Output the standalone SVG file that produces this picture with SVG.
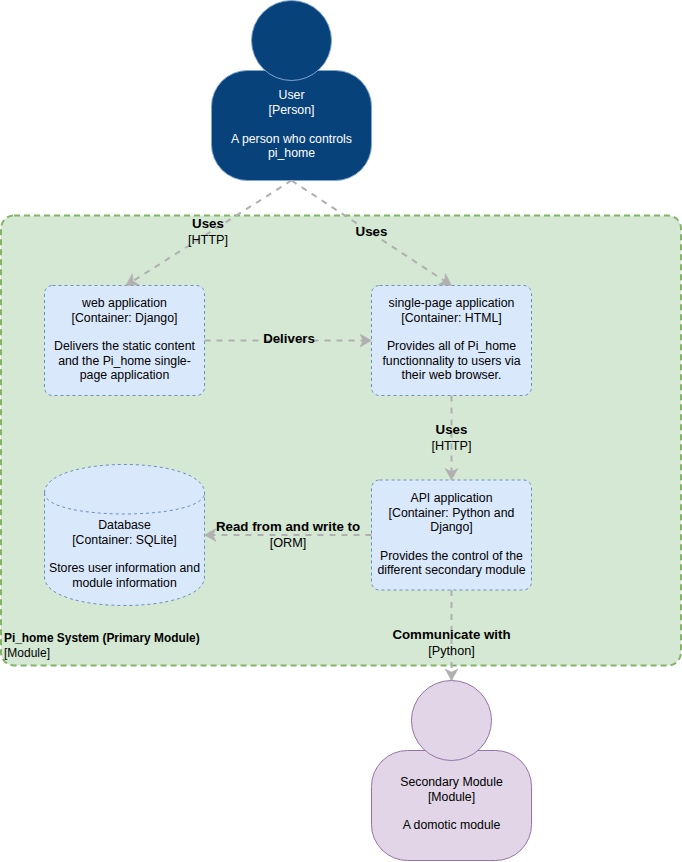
<svg xmlns="http://www.w3.org/2000/svg" width="682" height="862" viewBox="0 0 682 862">
<defs>
<marker id="arrow" markerUnits="userSpaceOnUse" markerWidth="16" markerHeight="16" refX="13" refY="8" orient="auto"><path d="M1.500 1.500 L13 8 L1.500 14.500 L4.500 8 Z" fill="#b0b0b0" stroke="#b0b0b0" stroke-width="0.5"/></marker>
</defs>
<style>
text{font-family:"Liberation Sans",Arial,sans-serif;font-size:12.300px;fill:#000;text-anchor:middle}
.w{fill:#fff}
.b{font-weight:bold;font-size:13.300px}
.t{font-size:12.700px}
.s{text-anchor:start;font-size:12px}
.sb{font-weight:bold;font-size:11.900px;text-anchor:start}
.box{fill:#dae8fc;stroke:#6c8ebf;stroke-dasharray:3 3}
.c{fill:none;stroke:#b0b0b0;stroke-width:2;stroke-dasharray:6 6;marker-end:url(#arrow)}
.person{fill:#08427b;stroke:#7ea6d3}
.module{fill:#e1d5e7;stroke:#9673a6}
</style>
<rect width="682" height="862" fill="#fff"/>
<g id="system">
<rect x="1" y="215.500" width="680" height="450" rx="13" ry="13" fill="#d5e8d4" stroke="#82b366" stroke-width="2" stroke-dasharray="6 4"/>
<text class="sb" x="4" y="642">Pi_home System (Primary Module)</text>
<text class="s" x="4" y="657">[Module]</text>
</g>
<g id="user">
<rect class="person" x="211.500" y="70.500" width="160" height="110" rx="36" ry="36"/>
<circle class="person" cx="291.500" cy="40.500" r="40"/>
<text class="w" x="291.500" y="99">User</text>
<text class="w" x="291.500" y="114">[Person]</text>
<text class="w" x="291.500" y="142.500">A person who controls</text>
<text class="w" x="291.500" y="157">pi_home</text>
</g>
<g id="web-application">
<rect class="box" x="44.500" y="285.500" width="160" height="110" rx="8" ry="8"/>
<text x="124.500" y="307">web application</text>
<text x="124.500" y="322">[Container: Django]</text>
<text x="124.500" y="350">Delivers the static content</text>
<text x="124.500" y="365">and the Pi_home single-</text>
<text x="124.500" y="379">page application</text>
</g>
<g id="single-page-application">
<rect class="box" x="371.500" y="285.500" width="160" height="110" rx="8" ry="8"/>
<text x="451.500" y="307">single-page application</text>
<text x="451.500" y="322">[Container: HTML]</text>
<text x="451.500" y="350">Provides all of Pi_home</text>
<text x="451.500" y="365">functionnality to users via</text>
<text x="451.500" y="379">their web browser.</text>
</g>
<g id="api-application">
<rect class="box" x="371.500" y="480" width="160" height="110" rx="8" ry="8"/>
<text x="451.500" y="502">API application</text>
<text x="451.500" y="517">[Container: Python and</text>
<text x="451.500" y="531">Django]</text>
<text x="451.500" y="560">Provides the control of the</text>
<text x="451.500" y="574">different secondary module</text>
</g>
<g id="database">
<path class="box" d="M44.500 493 C44.500 455 204.500 455 204.500 493 V577 C204.500 615 44.500 615 44.500 577 Z"/>
<path class="box" style="fill:none" d="M44.500 493 C44.500 521 204.500 521 204.500 493"/>
<text x="124.500" y="529">Database</text>
<text x="124.500" y="544">[Container: SQLite]</text>
<text x="124.500" y="572">Stores user information and</text>
<text x="124.500" y="587">module information</text>
</g>
<g id="secondary-module">
<rect class="module" x="371.500" y="750.500" width="160" height="110" rx="36" ry="36"/>
<circle class="module" cx="451.500" cy="720.500" r="40"/>
<text x="451.500" y="786">Secondary Module</text>
<text x="451.500" y="801">[Module]</text>
<text x="451.500" y="829">A domotic module</text>
</g>
<g id="connectors">
<path class="c" d="M291.500 180.500 L126 285.500"/>
<path class="c" d="M291.500 180.500 L451.500 285.500"/>
<path class="c" d="M204.500 340.500 L371.500 340.500"/>
<path class="c" d="M451.500 395.500 L451.500 480"/>
<path class="c" d="M371.500 535 L204.500 535"/>
<path class="c" d="M451.500 590 L451.500 680.500"/>
</g>
<g id="labels">
<text class="b" x="208" y="228">Uses</text>
<text class="t" x="208" y="244">[HTTP]</text>
<text class="b" x="371.500" y="236">Uses</text>
<text class="b" x="289" y="343">Delivers</text>
<text class="b" x="451.500" y="434">Uses</text>
<text class="t" x="451.500" y="450">[HTTP]</text>
<text class="b" x="288" y="531">Read from and write to</text>
<text class="t" x="288" y="547">[ORM]</text>
<text class="b" x="451.500" y="639">Communicate with</text>
<text class="t" x="451.500" y="655">[Python]</text>
</g>
</svg>
